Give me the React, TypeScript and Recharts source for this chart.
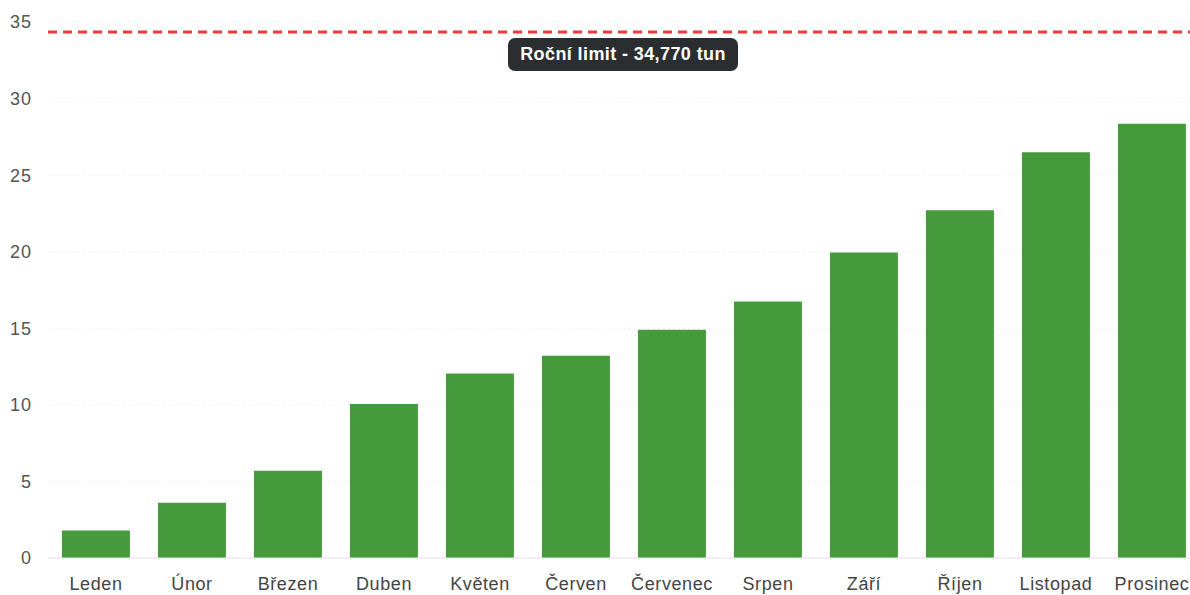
import { Bar, BarChart, CartesianGrid, ReferenceLine, XAxis, YAxis } from "recharts";

const months = ["Leden", "Únor", "Březen", "Duben", "Květen", "Červen", "Červenec", "Srpen", "Září", "Říjen", "Listopad", "Prosinec"];
const tons = [1.8, 3.6, 5.7, 10.05, 12.05, 13.2, 14.9, 16.75, 19.95, 22.7, 26.5, 28.35];
const yTicks = [0, 5, 10, 15, 20, 25, 30, 35];
const limit = 34.35;
const limitText = "Roční limit - 34,770 tun";

const data = months.map((m, i) => ({ m, v: tons[i] }));

function LimitLabel(props: any) {
  const vb = props.viewBox || {};
  const cx = 623;
  const y = (vb.y ?? 0) + 6;
  const w = 230;
  const h = 33;
  return (
    <g>
      <rect x={cx - w / 2} y={y} width={w} height={h} rx={7} fill="#2a2e31" />
      <text
        x={cx}
        y={y + h / 2 + 1}
        textAnchor="middle"
        dominantBaseline="middle"
        fill="#fff"
        fontSize={18}
        fontWeight={700}
        letterSpacing={0.4}
        fontFamily="Liberation Sans, Arial, sans-serif"
      >
        {limitText}
      </text>
    </g>
  );
}

export default function App() {
  return (
    <div style={{ position: "fixed", left: 0, top: 0, width: 1190, height: 595, overflow: "hidden", background: "#fff" }}>
      <BarChart
        width={1200}
        height={595}
        data={data}
        margin={{ top: 22, right: 0, bottom: 0, left: 0 }}
        barCategoryGap="14.5%"
      >
        <CartesianGrid vertical={false} stroke="#eef0f2" strokeDasharray="2 3" />
        <XAxis
          dataKey="m"
          axisLine={{ stroke: "#e4e6e8" }}
          tickLine={false}
          height={37}
          tickMargin={13}
          tick={{ fill: "#444", fontSize: 18, letterSpacing: 0.6, fontFamily: "Liberation Sans, Arial, sans-serif" }}
          interval={0}
        />
        <YAxis
          domain={[0, 35]}
          ticks={yTicks}
          width={48}
          axisLine={false}
          tickLine={false}
          tickSize={0}
          tickMargin={16}
          tick={{ fill: "#555", fontSize: 18, letterSpacing: 1, fontFamily: "Liberation Sans, Arial, sans-serif" }}
        />
        <Bar dataKey="v" fill="#459b3c" isAnimationActive={false} />
        <ReferenceLine
          y={limit}
          stroke="#f23a3a"
          strokeWidth={3}
          strokeDasharray="9 6"
          label={<LimitLabel />}
          ifOverflow="extendDomain"
        />
      </BarChart>
    </div>
  );
}
